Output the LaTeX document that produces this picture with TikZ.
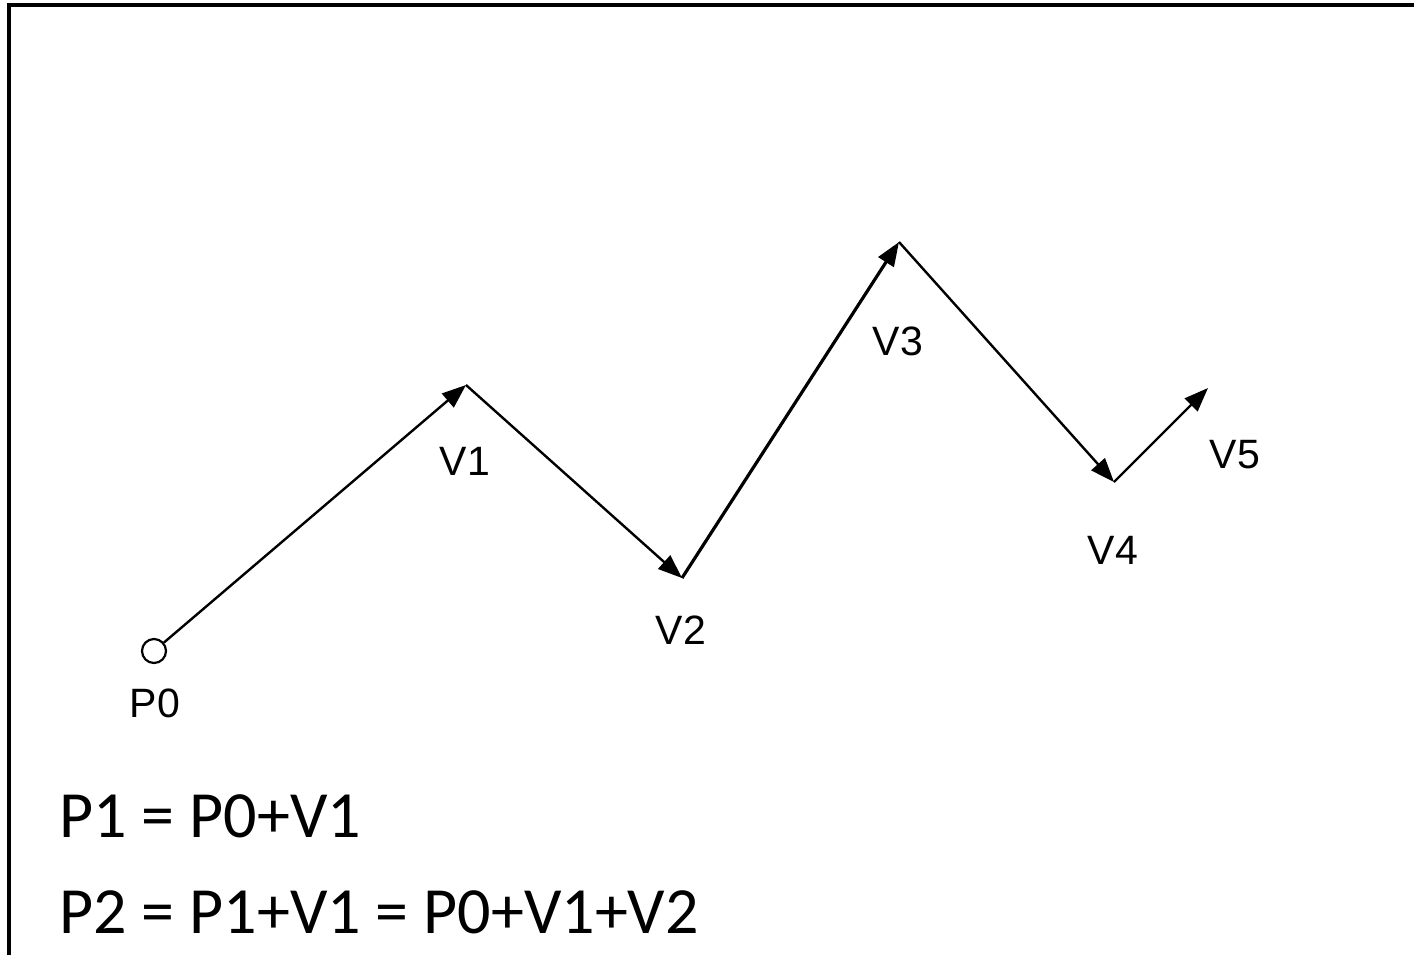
\documentclass[tikz,border=0pt]{standalone}
\usepackage{fontspec}
\setmainfont{Liberation Sans}
\newfontfamily\calib{Carlito}
\usetikzlibrary{arrows.meta}
\begin{document}
\begin{tikzpicture}[x=0.5pt,y=-0.5pt,
  vec/.style={line width=1.2pt,-{Triangle[length=12pt,width=9pt]}},
  lbl/.style={font=\fontsize{20.5}{24}\selectfont,inner sep=0pt},
  eq/.style={font=\calib\fontsize{33}{40}\selectfont,inner sep=0pt,anchor=base west},
  frame/.style={line width=1.6pt}]
\useasboundingbox (0,0) rectangle (1414,955);
\coordinate (fb) at (9,955);
\coordinate (fc) at (9,5);
\coordinate (fr) at (1414,5);
\draw[frame] (fb) -- (fc) -- (fr);
\node[circle,draw,line width=1.1pt,minimum size=12pt,inner sep=0pt] (P0) at (154,651) {};
\coordinate (V1) at (466,385);
\coordinate (V2) at (682,578);
\coordinate (V3) at (899,242);
\coordinate (V4) at (1114,482);
\coordinate (V5) at (1208,388);
\draw[vec] (P0) -- (V1);
\draw[vec] (V1) -- (V2);
\draw[vec,line width=1.6pt] (V2) -- (V3);
\draw[vec] (V3) -- (V4);
\draw[vec] (V4) -- (V5);
\node[lbl] (tP0) at (155,703) {P0};
\node[lbl] (tV1) at (465,461) {V1};
\node[lbl] (tV2) at (681,630) {V2};
\node[lbl] (tV3) at (898,341) {V3};
\node[lbl] (tV4) at (1113,550) {V4};
\node[lbl] (tV5) at (1235,455) {V5};
\node[eq] (e1) at (59,837) {P1 = P0+V1};
\node[eq] (e2) at (59,933) {P2 = P1+V1 = P0+V1+V2};
\end{tikzpicture}
\end{document}
